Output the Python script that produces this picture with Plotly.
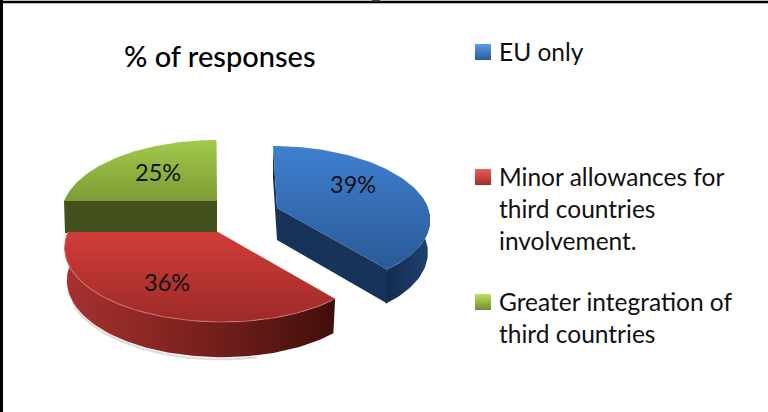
import numpy as np
import plotly.graph_objects as go

# ---- data ----
categories = ["EU only", "Minor allowances for<br>third countries<br>involvement.", "Greater integration of<br>third countries"]
percent = [39, 36, 25]
title_text = "% of responses"

W, H = 768, 412


def project(theta, g, depth=0.0, shrink=1.0):
    u, v = np.sin(theta), -np.cos(theta)
    x = g["cx"] + shrink * g["a"] * u * (1 + g["k"] * v) + g["s"] * v
    y = g["cy"] + g["b"] * v * (1 + g["t"] * v)
    d = depth * (1 + 0.1 * v) if depth else 0.0
    return x, y + d


def grad(kind, stops):
    n = len(stops) - 1
    return dict(type=kind, colorscale=[[i / n, c] for i, c in enumerate(stops)])


fig = go.Figure()


def poly(x, y, **kw):
    fig.add_trace(go.Scatter(x=list(x), y=list(y), mode="lines", fill="toself",
                             line=dict(width=0), hoverinfo="skip", showlegend=False, **kw))


fr = np.cumsum([0] + percent) / 100 * 2 * np.pi
geo = [
    dict(cx=277, cy=208, s=4.0, a=151, b=72.0, t=0.1385, k=0.146),
    dict(cx=218, cy=232, s=4.0, a=150, b=75.5, t=0.192, k=0.25),
    dict(cx=217, cy=201, s=0.5, a=153, b=75.5, t=0.192, k=0.2),
]
# colour stops run from the lower edge of the face to its upper edge (the y axis is reversed)
top = [["#2a5a96", "#3f7fd0"], ["#9e2a28", "#cf3d3a"], ["#7c9c36", "#a3c94b"]]
DEPTH = 32.0

# shadow below the front slice
t = np.linspace(fr[1] + 0.5, fr[2] - 0.5, 70)
xs, ys = project(t, geo[1], DEPTH + 2.0, 0.985)
fig.add_trace(go.Scatter(x=xs, y=ys, mode="lines", line=dict(color="#dcdcdc", width=2),
                         hoverinfo="skip", showlegend=False))

# green cut face
g = geo[2]
x0, y0 = project(fr[2], g)
poly([x0, g["cx"], g["cx"], x0 + 1, x0], [y0, g["cy"], g["cy"] + 32, y0 + 32, y0], fillcolor="#42501d")

# blue faces
g = geo[0]
cx, cy = g["cx"], g["cy"]
xb, yb = project(fr[0], g)
poly([xb, cx, cx, xb], [yb, cy, cy + DEPTH, yb + DEPTH], fillcolor="#17335a")
x1, y1 = project(fr[1], g)
poly([cx, x1, x1, cx], [cy, y1, y1 + DEPTH + 2, cy + DEPTH], fillcolor="#17335a")
t = np.linspace(np.pi * 0.45, fr[1], 40)
xt, yt = project(t, g)
xl, yl = project(t[::-1], g, DEPTH, 0.985)
poly(np.r_[xt, xl], np.r_[yt, yl], fillgradient=grad("horizontal", ["#122c4f", "#1f4070"]))

# red outer face
g = geo[1]
t = np.linspace(fr[1], fr[2], 90)
xt, yt = project(t, g)
xl, yl = project(t[::-1], g, DEPTH, 0.985)
poly(np.r_[xt, xl], np.r_[yt, yl],
     fillgradient=grad("horizontal", ["#a5322f", "#8a2623", "#661b18", "#3f0f0b"]))

# top faces, back to front
for i in (2, 0, 1):
    g = geo[i]
    t = np.linspace(fr[i], fr[i + 1], 90)
    x, y = project(t, g)
    poly(np.r_[g["cx"], x, g["cx"]], np.r_[g["cy"], y, g["cy"]],
         fillgradient=grad("vertical", top[i]), name=categories[i].replace("<br>", " "))

# lighter rim on front edge of the red top
g = geo[1]
t = np.linspace(fr[1] + 0.02, fr[2], 90)
x, y = project(t, g)
fig.add_trace(go.Scatter(x=x, y=y, mode="lines", line=dict(color="rgba(235,130,125,0.55)", width=1.2),
                         hoverinfo="skip", showlegend=False))

# legend keys
key_y = [52, 177, 302]
key_col = [("#2c5c9a", "#5a9be8"), ("#a32c2a", "#e8605c"), ("#6f8c2f", "#c0e060")]
for yk, (c, gc), name in zip(key_y, key_col, categories):
    fig.add_trace(go.Scatter(x=[483], y=[yk], mode="markers", hoverinfo="skip", showlegend=False,
                             marker=dict(symbol="square", size=16, color=gc,
                                         gradient=dict(type="vertical", color=c), line=dict(width=0))))

annots = []
FONT = "Lato, Carlito, Calibri, sans-serif"
for yk, cat in zip(key_y, categories):
    annots.append(dict(x=497, y=yk - 17, text=cat, xref="x", yref="y", xanchor="left", yanchor="top",
                       align="left", showarrow=False, font=dict(family=FONT, size=24.5, color="#111111")))
for pos, val in zip([(353, 184), (167, 282), (158, 172)], percent):
    annots.append(dict(x=pos[0], y=pos[1], text=f"{val}%", xref="x", yref="y", showarrow=False,
                       font=dict(family=FONT, size=23.5, color="#111111")))
annots.append(dict(x=220, y=55, text=title_text, xref="x", yref="y", showarrow=False,
                   font=dict(family=FONT, size=29, color="#000000", weight=500)))

shapes = [
    dict(type="line", x0=1.5, x1=1.5, y0=0, y1=H, xref="x", yref="y", line=dict(color="black", width=3)),
    dict(type="line", x0=0, x1=W, y0=2, y1=2, xref="x", yref="y", line=dict(color="black", width=2.5)),
    dict(type="rect", x0=372, x1=380, y0=0, y1=1.5, xref="x", yref="y", fillcolor="#444444", line=dict(width=0)),
]

fig.update_layout(width=W, height=H, margin=dict(l=0, r=0, t=0, b=0), paper_bgcolor="white",
                  plot_bgcolor="white", showlegend=False, annotations=annots, shapes=shapes,
                  xaxis=dict(range=[0, W], visible=False, fixedrange=True),
                  yaxis=dict(range=[H, 0], visible=False, fixedrange=True))
fig.write_html("out.html", config=dict(displayModeBar=False),
               post_script="document.body.style.margin='0';document.documentElement.style.overflow='hidden';")
